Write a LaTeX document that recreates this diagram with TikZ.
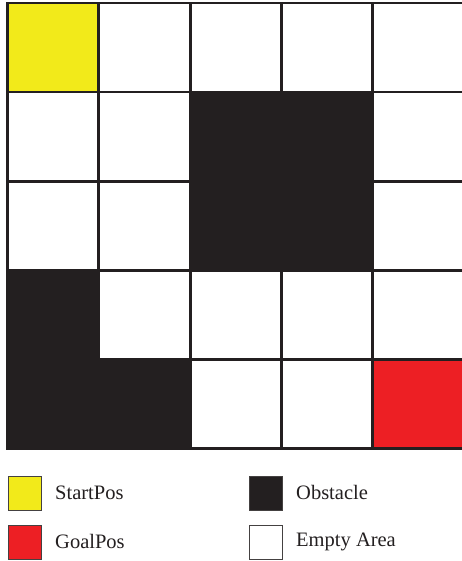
\documentclass[tikz,border=0pt]{standalone}
\usepackage{fontspec}
\setmainfont{Liberation Serif}
\definecolor{ink}{HTML}{231F20}
\definecolor{startyel}{HTML}{F2EA1A}
\definecolor{goalred}{HTML}{ED1F24}
\begin{document}
\begin{tikzpicture}[x=1pt,y=-1pt,
  cell/.style={draw=ink,line width=2.8pt,minimum width=91.3pt,minimum height=89.1pt,inner sep=0pt,outer sep=0pt,anchor=north west},
  key/.style={draw=ink!85,line width=1.2pt,minimum width=33.5pt,minimum height=34pt,inner sep=0pt,anchor=north west},
  lbl/.style={anchor=west,inner sep=0pt,font=\fontsize{20.5}{24}\selectfont,text=ink}]
\useasboundingbox (0,0) rectangle (461,561);
\fill[white] (0,0) rectangle (461,561);
% grid cells
\foreach \r in {0,...,4}{
  \foreach \c in {0,...,4}{
    \node[cell,fill=white] (c\r\c) at ({7.5+91.3*\c},{3+89.1*\r}) {};
  }
}
\node[cell,fill=startyel] (s00) at (7.5,3) {};
\node[cell,fill=ink] (o12) at ({7.5+91.3*2},{3+89.1*1}) {};
\node[cell,fill=ink] (o13) at ({7.5+91.3*3},{3+89.1*1}) {};
\node[cell,fill=ink] (o22) at ({7.5+91.3*2},{3+89.1*2}) {};
\node[cell,fill=ink] (o23) at ({7.5+91.3*3},{3+89.1*2}) {};
\node[cell,fill=ink] (o30) at ({7.5},{3+89.1*3}) {};
\node[cell,fill=ink] (o40) at ({7.5},{3+89.1*4}) {};
\node[cell,fill=ink] (o41) at ({7.5+91.3},{3+89.1*4}) {};
\node[cell,fill=goalred] (g44) at ({7.5+91.3*4},{3+89.1*4}) {};
% legend
\node[key,fill=startyel] (k1) at (7.5,475.5) {};
\node[lbl] (t1) at (55,492.5) {StartPos};
\node[key,fill=goalred] (k2) at (7.5,524.5) {};
\node[lbl] (t2) at (55,541.5) {GoalPos};
\node[key,fill=ink] (k3) at (248.5,475.5) {};
\node[lbl] (t3) at (296,492.5) {Obstacle};
\node[key,fill=white] (k4) at (248.5,524.5) {};
\node[lbl] (t4) at (296,541.5) {Empty Area};
\end{tikzpicture}
\end{document}
